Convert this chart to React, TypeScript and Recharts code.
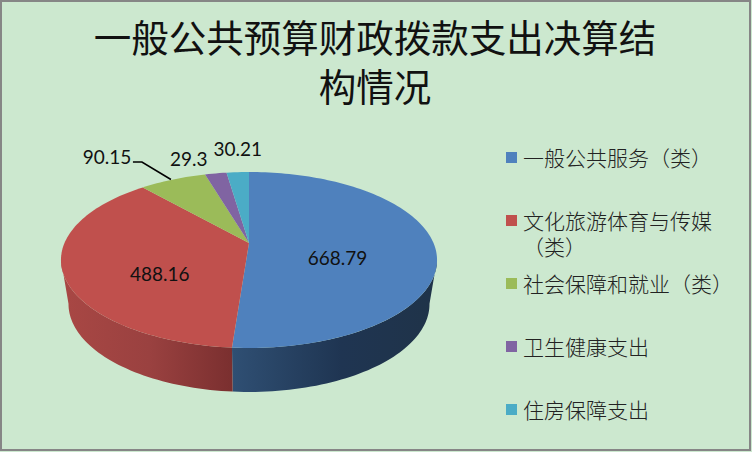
import React from "react";
import { PieChart, Pie, Legend } from "recharts";

const categories = ["一般公共服务（类）", "文化旅游体育与传媒（类）", "社会保障和就业（类）", "卫生健康支出", "住房保障支出"];
const values = [668.79, 488.16, 90.15, 29.3, 30.21];
const colors = ["#4f81bd", "#c0504d", "#9bbb59", "#8064a2", "#4bacc6"];
const titleLines = ["一般公共预算财政拨款支出决算结", "构情况"];

const table = categories.map((name, i) => ({ name, value: values[i], fill: colors[i] }));

const CJK = '"Noto Sans CJK SC", sans-serif';
const NUM = 'Lato, "Open Sans", sans-serif';

// Perspective view of the pie's circle
const K = 0.193;
const SY = 84.7;
const SX = 184.5;
const DEPTH = 44;
const BOTTOM_SCALE = 0.96;
const project = (cx: number, cy: number, t: number, f = 1) => {
  const a = (t * Math.PI) / 180;
  const X = Math.sin(a) * f;
  const Y = Math.cos(a) * f;
  const d = 1 + K * Y;
  return { x: cx + (SX * X) / d, y: cy - (SY * Y) / d };
};

const arc = (cx: number, cy: number, from: number, to: number) => {
  const n = Math.max(2, Math.ceil(Math.abs(to - from) / 1.5));
  const out = [];
  for (let i = 0; i <= n; i++) out.push(project(cx, cy, from + ((to - from) * i) / n));
  return out;
};
const toPath = (pts: { x: number; y: number }[]) =>
  pts.map((p, i) => `${i ? "L" : "M"}${p.x.toFixed(2)} ${p.y.toFixed(2)}`).join(" ") + " Z";

const WALL_FROM = 101;
const WALL_TO = 259;

const Slice = (props: any) => {
  const { cx, cy, startAngle, endAngle, fill, index } = props;
  const t0 = 90 - startAngle;
  const t1 = 90 - endAngle;
  const lo = Math.max(t0, WALL_FROM);
  const hi = Math.min(t1, WALL_TO);
  let wall = null;
  if (hi > lo) {
    const top = arc(cx, cy, lo, hi);
    const bottom = top
      .map((p) => ({ x: cx + (p.x - cx) * BOTTOM_SCALE, y: p.y + DEPTH }))
      .reverse();
    wall = <path d={toPath([...top, ...bottom])} fill={`url(#wall-${index})`} />;
  }
  return (
    <g>
      {wall}
      <path d={toPath([{ x: cx, y: cy }, ...arc(cx, cy, t0, t1)])} fill={fill} />
    </g>
  );
};

const labelAnchors = [
  { f: 0.5, dx: -4, dy: 12.5 },
  { f: 0.5, dx: 1, dy: 17 },
  { f: 1, dx: -66, dy: -23 },
  { f: 1, dx: -27, dy: -15 },
  { f: 1, dx: 0, dy: -24 },
];

const SliceLabel = (props: any) => {
  const { cx, cy, midAngle, index, value } = props;
  const a = labelAnchors[index];
  const p = project(cx, cy, 90 - midAngle, a.f);
  return (
    <g>
      {index === 2 && (
        <path
          d={`M${p.x - 40} ${p.y - 17.5} L${p.x - 31} ${p.y - 17.5} L${p.x - 2} ${p.y}`}
          fill="none"
          stroke="#000"
          strokeWidth={1.6}
        />
      )}
      <text
        x={p.x + a.dx}
        y={p.y + a.dy}
        textAnchor="middle"
        dominantBaseline="central"
        fontFamily={NUM}
        fontSize={19}
        fill="#111"
      >
        {value}
      </text>
    </g>
  );
};

const LegendBox = (props: any) => (
  <div style={{ fontFamily: CJK, fontSize: 21, color: "#222", fontWeight: 300 }}>
    {(props.payload || []).map((e: any) => (
      <div key={e.value} style={{ display: "flex", height: 62.9, width: 235 }}>
        <span
          style={{
            width: 11,
            height: 11,
            marginTop: 8,
            marginRight: 6,
            flex: "none",
            background: e.color,
          }}
        />
        <span style={{ lineHeight: "26px", width: 214, marginTop: 0 }}>{e.value}</span>
      </div>
    ))}
  </div>
);

export default function App() {
  return (
    <div
      style={{
        position: "absolute",
        left: 0,
        top: 0,
        width: 752,
        height: 452,
        background: "#cce8cf",
      }}
    >
      <PieChart width={752} height={452} margin={{ top: 0, right: 0, bottom: 0, left: 0 }}>
        <defs>
          <linearGradient id="wall-0" gradientUnits="userSpaceOnUse" x1={233} x2={430} y1={0} y2={0}>
            <stop offset="0" stopColor="#2f4f73" />
            <stop offset="0.55" stopColor="#1f3552" />
            <stop offset="1" stopColor="#1f3349" />
          </linearGradient>
          <linearGradient id="wall-1" gradientUnits="userSpaceOnUse" x1={66} x2={233} y1={0} y2={0}>
            <stop offset="0" stopColor="#a84744" />
            <stop offset="0.5" stopColor="#9a4140" />
            <stop offset="1" stopColor="#7a2f2f" />
          </linearGradient>
        </defs>
        <rect x={1} y={1} width={749} height={449} fill="none" stroke="#868686" strokeWidth={2} />
        {titleLines.map((line, i) => (
          <text
            key={line}
            x={375}
            y={35 + i * 49}
            textAnchor="middle"
            dominantBaseline="central"
            fontFamily={CJK}
            fontSize={37.5}
            fontWeight={400}
            fill="#111"
          >
            {line}
          </text>
        ))}
        <Pie
          data={table}
          dataKey="value"
          nameKey="name"
          cx={249}
          cy={243}
          outerRadius={88}
          startAngle={90}
          endAngle={-270}
          stroke="none"
          shape={Slice}
          label={SliceLabel}
          labelLine={false}
          isAnimationActive={false}
        />
        <Legend
          layout="vertical"
          align="center"
          verticalAlign="middle"
          itemSorter={null}
          content={LegendBox}
          wrapperStyle={{ left: 506, top: 144, width: 240 }}
        />
      </PieChart>
    </div>
  );
}
